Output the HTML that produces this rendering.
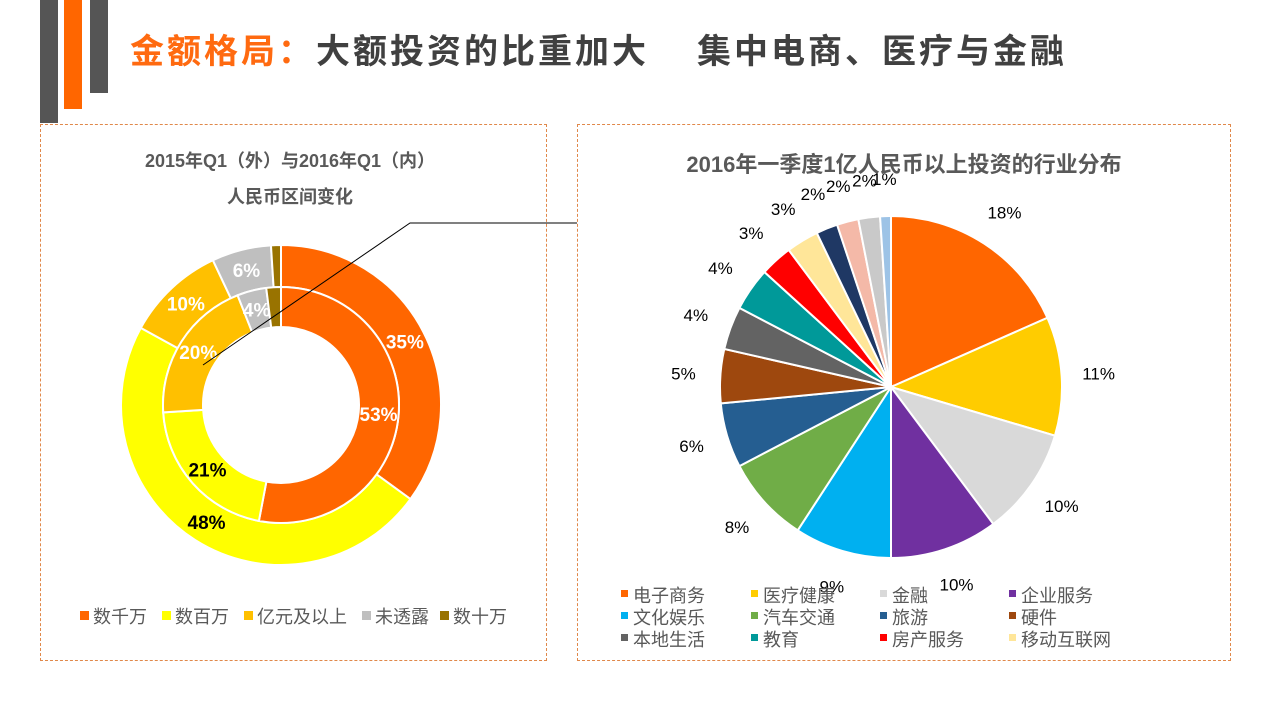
<!DOCTYPE html>
<html><head><meta charset="utf-8"><style>
body{margin:0;width:1280px;height:720px;background:#fff;overflow:hidden;font-family:"Liberation Sans","Noto Sans CJK SC",sans-serif;position:relative}
.bar{position:absolute;top:0}
.panel{position:absolute;border:1px dashed #e0884a;box-sizing:border-box}
.tt{position:absolute;top:30px;font-size:34px;font-weight:bold;color:#404040;letter-spacing:3px;white-space:nowrap;line-height:44px}
</style></head><body>
<div class="bar" style="left:40px;width:18px;height:123px;background:#555"></div>
<div class="bar" style="left:64px;width:18px;height:109px;background:#ff6600"></div>
<div class="bar" style="left:90px;width:18px;height:93px;background:#555"></div>
<div class="tt" style="left:130px;color:#ff6a10">金额格局：</div>
<div class="tt" style="left:316px">大额投资的比重加大</div>
<div class="tt" style="left:697px">集中电商、医疗与金融</div>
<div class="panel" style="left:40px;top:124px;width:507px;height:537px"></div>
<div class="panel" style="left:577px;top:124px;width:654px;height:537px"></div>
<svg width="1280" height="720" style="position:absolute;left:0;top:0">
<text x="290" y="167" text-anchor="middle" font-size="18" font-weight="bold" fill="#595959">2015年Q1（外）与2016年Q1（内）</text>
<text x="290" y="203" text-anchor="middle" font-size="18" font-weight="bold" fill="#595959">人民币区间变化</text>
<text x="904" y="172" text-anchor="middle" font-size="22" font-weight="bold" fill="#595959">2016年一季度1亿人民币以上投资的行业分布</text>
<g id="donut"></g><g id="pie"></g>
<polyline points="577,223 410,223 203,365" fill="none" stroke="#000" stroke-width="1"/>
<g id="legends"></g>
</svg>
<script>
const donutCats=["数千万","数百万","亿元及以上","未透露","数十万"];
const outerVals=[35,48,10,6,1];
const innerVals=[53,21,20,4,2];
const donutColors=["#ff6600","#ffff00","#ffc000","#bfbfbf","#997300"];
const outerLabels=["35%","48%","10%","6%",""];
const innerLabels=["53%","21%","20%","4%",""];
const outerLabelColors=["#fff","#000","#fff","#fff","#fff"];
const innerLabelColors=["#fff","#000","#fff","#fff","#fff"];

const pieCats=["电子商务","医疗健康","金融","企业服务","文化娱乐","汽车交通","旅游","硬件","本地生活","教育","房产服务","移动互联网","其他1","其他2","其他3","其他4"];
const pieVals=[18,11,10,10,9,8,6,5,4,4,3,3,2,2,2,1];
const pieColors=["#ff6600","#ffcc00","#d9d9d9","#7030a0","#00b0f0","#70ad47","#255e91","#9e480e","#636363","#009999","#ff0000","#ffe699","#1f3864","#f4b9a8","#c9c9c9","#9dc3e6"];
const NS="http://www.w3.org/2000/svg";
function pt(cx,cy,r,a){return [cx+r*Math.sin(a),cy-r*Math.cos(a)];}
function arc(cx,cy,r0,r1,a0,a1){
 const p0=pt(cx,cy,r1,a0),p1=pt(cx,cy,r1,a1),large=(a1-a0)>Math.PI?1:0;
 if(r0===0)return `M${cx},${cy}L${p0}A${r1},${r1} 0 ${large} 1 ${p1}Z`;
 const q1=pt(cx,cy,r0,a1),q0=pt(cx,cy,r0,a0);
 return `M${p0}A${r1},${r1} 0 ${large} 1 ${p1}L${q1}A${r0},${r0} 0 ${large} 0 ${q0}Z`;}
function ring(g,vals,colors,cx,cy,r0,r1,labels,lc,lr,fs,name){
 const tot=vals.reduce((a,b)=>a+b,0);let a=0;
 vals.forEach((v,i)=>{const a1=a+v/tot*2*Math.PI;
  const p=document.createElementNS(NS,"path");p.setAttribute("d",arc(cx,cy,r0,r1,a,a1));
  p.setAttribute("fill",colors[i]);p.setAttribute("stroke","#fff");p.setAttribute("stroke-width","2");
  
  
  g.appendChild(p);
  if(labels&&labels[i]){const m=(a+a1)/2,q=pt(cx,cy,lr,m);const t=document.createElementNS(NS,"text");
   t.setAttribute("x",q[0]);t.setAttribute("y",q[1]+fs*0.35);t.setAttribute("text-anchor","middle");
   t.setAttribute("font-size",fs);if(lc)t.setAttribute("font-weight","bold");t.setAttribute("fill",lc?lc[i]:"#000");t.textContent=labels[i];
   
   
   g.appendChild(t);}
  a=a1;});}
const dg=document.getElementById("donut");
ring(dg,outerVals,donutColors,281,405,118,160,outerLabels,outerLabelColors,139,19,"outer-ring");
ring(dg,innerVals,donutColors,281,405,78,118,innerLabels,innerLabelColors,98,19,"inner-ring");
const pg=document.getElementById("pie");
ring(pg,pieVals,pieColors,891,387,0,171,pieVals.map(v=>v+"%"),null,208,17,"pie");
const lg=document.getElementById("legends");
donutCats.forEach((c,i)=>{const x=[80,162,244,362,440][i];
 const r=document.createElementNS(NS,"rect");r.setAttribute("x",x);r.setAttribute("y",611);r.setAttribute("width",9);r.setAttribute("height",9);r.setAttribute("fill",donutColors[i]);
 
 
 lg.appendChild(r);
 const t=document.createElementNS(NS,"text");t.setAttribute("x",x+13);t.setAttribute("y",623);t.setAttribute("font-size",18);t.setAttribute("fill","#595959");t.textContent=c;
 
 
 lg.appendChild(t);});
pieCats.slice(0,12).forEach((c,i)=>{const x=[621,751,880,1009][i%4],y=595+Math.floor(i/4)*22;
 const r=document.createElementNS(NS,"rect");r.setAttribute("x",x);r.setAttribute("y",y-5);r.setAttribute("width",7);r.setAttribute("height",7);r.setAttribute("fill",pieColors[i]);
 
 
 lg.appendChild(r);
 const t=document.createElementNS(NS,"text");t.setAttribute("x",x+12);t.setAttribute("y",y+7);t.setAttribute("font-size",18);t.setAttribute("fill","#595959");t.textContent=c;
 
 
 lg.appendChild(t);});
</script>
</body></html>
